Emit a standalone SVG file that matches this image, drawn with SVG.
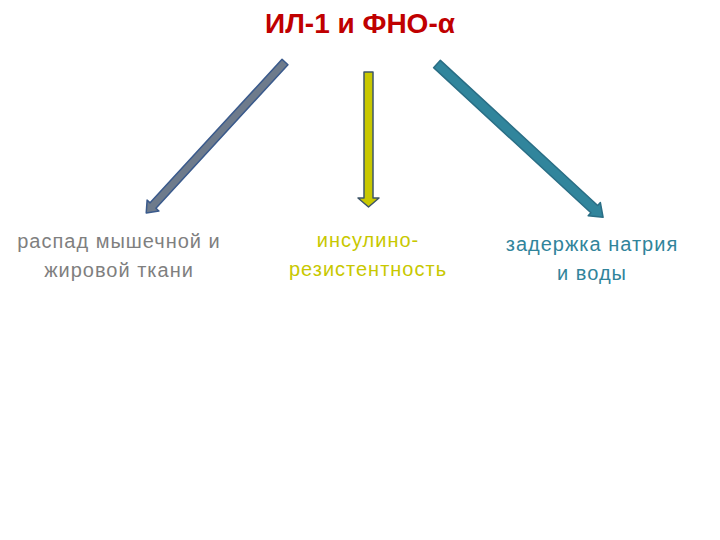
<svg xmlns="http://www.w3.org/2000/svg" width="720" height="540" viewBox="0 0 720 540">
<style>
.t{font-family:"Liberation Sans","Noto Sans",sans-serif;font-size:20px;letter-spacing:1px;text-anchor:middle}
.title{font-family:"Liberation Sans","Noto Sans",sans-serif;font-size:28px;font-weight:bold;fill:#C00000;text-anchor:middle}
.arr{stroke-width:1.5;stroke-linejoin:round}
</style>
<rect width="720" height="540" fill="#ffffff"/>
<g id="title"><text class="title" x="360" y="33">ИЛ-1 и ФНО-α</text></g>
<g id="connectors">
<path class="arr" fill="#6E7B8C" stroke="#3A5A8C" transform="translate(285,62) rotate(132.6)" d="M0,-4 L195,-4 L195,-8 L205,0 L195,8 L195,4 L0,4 Z"/>
<path class="arr" fill="#C8C800" stroke="#3E5568" transform="translate(368.5,72) rotate(90)" d="M0,-4.5 L126,-4.5 L126,-10.5 L135,0 L126,10.5 L126,4.5 L0,4.5 Z"/>
<path class="arr" fill="#31859C" stroke="#2A6E85" transform="translate(437,64) rotate(42.7)" d="M0,-5 L214,-5 L214,-9 L226,0 L214,9 L214,5 L0,5 Z"/>
</g>
<g id="node-left"><text class="t" fill="#7F7F7F"><tspan x="119" y="248">распад мышечной и</tspan><tspan x="119" y="277">жировой ткани</tspan></text></g>
<g id="node-mid"><text class="t" fill="#C8C800"><tspan x="368" y="247">инсулино-</tspan><tspan x="368" y="276">резистентность</tspan></text></g>
<g id="node-right"><text class="t" fill="#31849B"><tspan x="592" y="251">задержка натрия</tspan><tspan x="592" y="280">и воды</tspan></text></g>
</svg>
